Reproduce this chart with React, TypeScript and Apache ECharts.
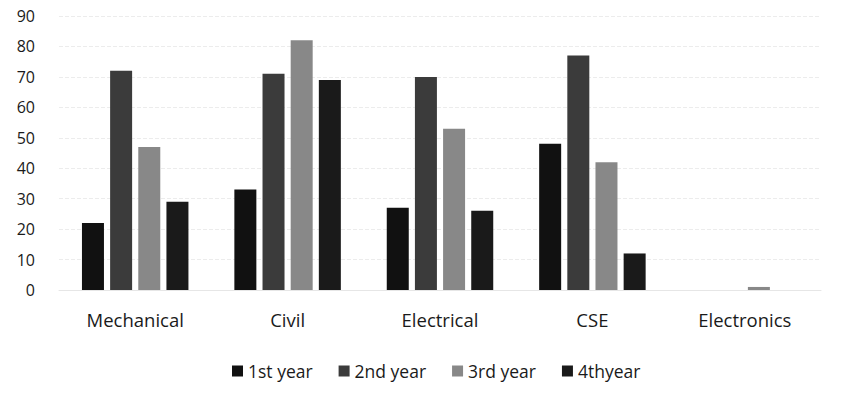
import React, { useEffect, useRef } from "react";
import * as echarts from "echarts";

const categories = ["Mechanical", "Civil", "Electrical", "CSE", "Electronics"];
const seriesNames = ["1st year", "2nd year", "3rd year", "4thyear"];
const firstYear = [22, 33, 27, 48, 0];
const secondYear = [72, 71, 70, 77, 0];
const thirdYear = [47, 82, 53, 42, 1];
const fourthYear = [29, 69, 26, 12, 0];
const colors = ["#111111", "#3b3b3b", "#888888", "#1a1a1a"];

export default function App() {
  const ref = useRef<HTMLDivElement>(null);
  useEffect(() => {
    if (!ref.current) return;
    const chart = echarts.init(ref.current, null, { renderer: "svg" });
    const data = [firstYear, secondYear, thirdYear, fourthYear];
    chart.setOption({
      animation: false,
      backgroundColor: "#ffffff",
      textStyle: { fontFamily: "Open Sans" },
      grid: { left: 59, right: 20, top: 16, bottom: 113 },
      legend: {
        data: seriesNames,
        top: 357,
        left: 227,
        itemWidth: 11,
        itemHeight: 11,
        itemGap: 26,
        icon: "rect",
        textStyle: { fontSize: 17.5, color: "#1a1a1a", fontFamily: "Open Sans" },
      },
      xAxis: {
        type: "category",
        data: categories,
        axisLine: { lineStyle: { color: "#e6e6e6" } },
        axisTick: { show: false },
        axisLabel: { fontSize: 18.5, color: "#1a1a1a", margin: 20 },
      },
      yAxis: {
        type: "value",
        min: 0,
        max: 90,
        interval: 10,
        axisLine: { show: false },
        axisTick: { show: false },
        axisLabel: { fontSize: 16, color: "#1a1a1a", margin: 24, align: "right" },
        splitLine: { lineStyle: { color: "#ececec", type: "dashed" } },
      },
      series: seriesNames.map((name, i) => ({
        name,
        type: "bar",
        data: data[i],
        barWidth: 22,
        barGap: "28%",
        itemStyle: { color: colors[i] },
      })),
    });
    return () => chart.dispose();
  }, []);
  return (
    <div
      ref={ref}
      style={{ position: "fixed", left: 0, top: 0, width: 841, height: 403 }}
    />
  );
}
